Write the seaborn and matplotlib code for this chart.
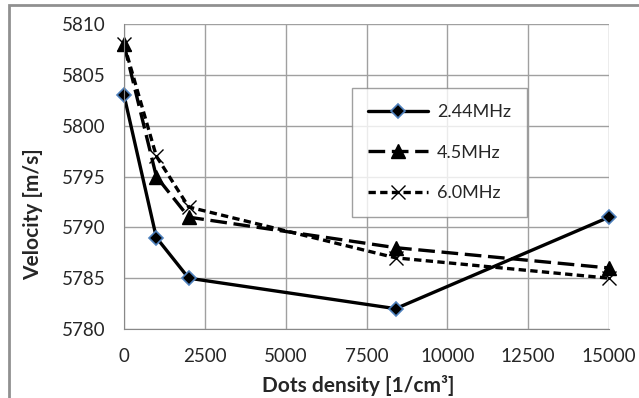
import matplotlib
matplotlib.use('Agg')
import matplotlib.pyplot as plt
import seaborn as sns
import pandas as pd

# Dados
densidade = [0, 1000, 2000, 8400, 15000]
vel_244 = [5803, 5789, 5785, 5782, 5791]
vel_45 = [5808, 5795, 5791, 5788, 5786]
vel_60 = [5808, 5797, 5792, 5787, 5785]
series = ['2.44MHz', '4.5MHz', '6.0MHz']

df = pd.DataFrame({
    'dens': densidade * 3,
    'vel': vel_244 + vel_45 + vel_60,
    'serie': [series[0]] * 5 + [series[1]] * 5 + [series[2]] * 5,
})

sns.set_style('white')
plt.rcParams['font.family'] = ['Lato', 'DejaVu Sans']

fig = plt.figure(figsize=(6.39, 3.98), dpi=100)
ax = fig.add_axes([124 / 639, 1 - 329 / 398, (609 - 124) / 639, (329 - 24) / 398])

estilos = {
    '2.44MHz': dict(marker='D', ms=7, mec='#4f81bd', mew=1.2, dashes=None),
    '4.5MHz': dict(marker='^', ms=10, mec='black', mew=1, dashes=(5, 2)),
    '6.0MHz': dict(marker='x', ms=10, mec='black', mew=1, dashes=(2.2, 1.3)),
}

for s in series:
    d = df[df['serie'] == s]
    st = estilos[s]
    linha, = ax.plot(d['dens'], d['vel'], color='black', lw=2.4,
                     marker=st['marker'], markersize=st['ms'], markerfacecolor='black',
                     markeredgecolor=st['mec'], markeredgewidth=st['mew'], label=s)
    if st['dashes']:
        linha.set_dashes(st['dashes'])
    linha.set_clip_on(False)

ax.set_xlim(0, 15000)
ax.set_ylim(5780, 5810)
ax.set_xticks(range(0, 15001, 2500))
ax.set_yticks(range(5780, 5811, 5))
ax.grid(True, color='#a0a0a0', lw=1)
ax.set_axisbelow(True)
for side in ['top', 'right']:
    ax.spines[side].set_visible(False)
ax.spines['left'].set_color('#888888')
ax.spines['bottom'].set_color('#888888')
ax.tick_params(axis='both', direction='out', length=5, color='#888888', labelsize=13.5)
ax.tick_params(axis='x', pad=9)
ax.tick_params(axis='y', pad=8)

ax.set_xlabel('Dots density [1/cm³]', fontsize=15, fontweight='bold')
ax.set_ylabel('Velocity [m/s]', fontsize=15, fontweight='bold')
ax.xaxis.set_label_coords((358 - 124) / 485, -(375 - 329) / 305)
ax.yaxis.set_label_coords((43 - 124) / 485, (329 - 214) / 305)

leg = ax.legend(loc='upper left', bbox_to_anchor=((352 - 124) / 485, 1 - (88 - 24) / 305),
                fontsize=13, frameon=True, fancybox=False, edgecolor='#888888',
                handlelength=3.3, labelspacing=1.35, borderpad=0.9, handletextpad=0.5,
                borderaxespad=0)
leg.get_frame().set_linewidth(1)

# moldura externa do gráfico
fig.patches.append(plt.Rectangle((9 / 639, -0.05), 1, 1.05 - 5 / 398, transform=fig.transFigure,
                                 fill=False, edgecolor='#909090', lw=2))

fig.savefig('out.png', dpi=100)
